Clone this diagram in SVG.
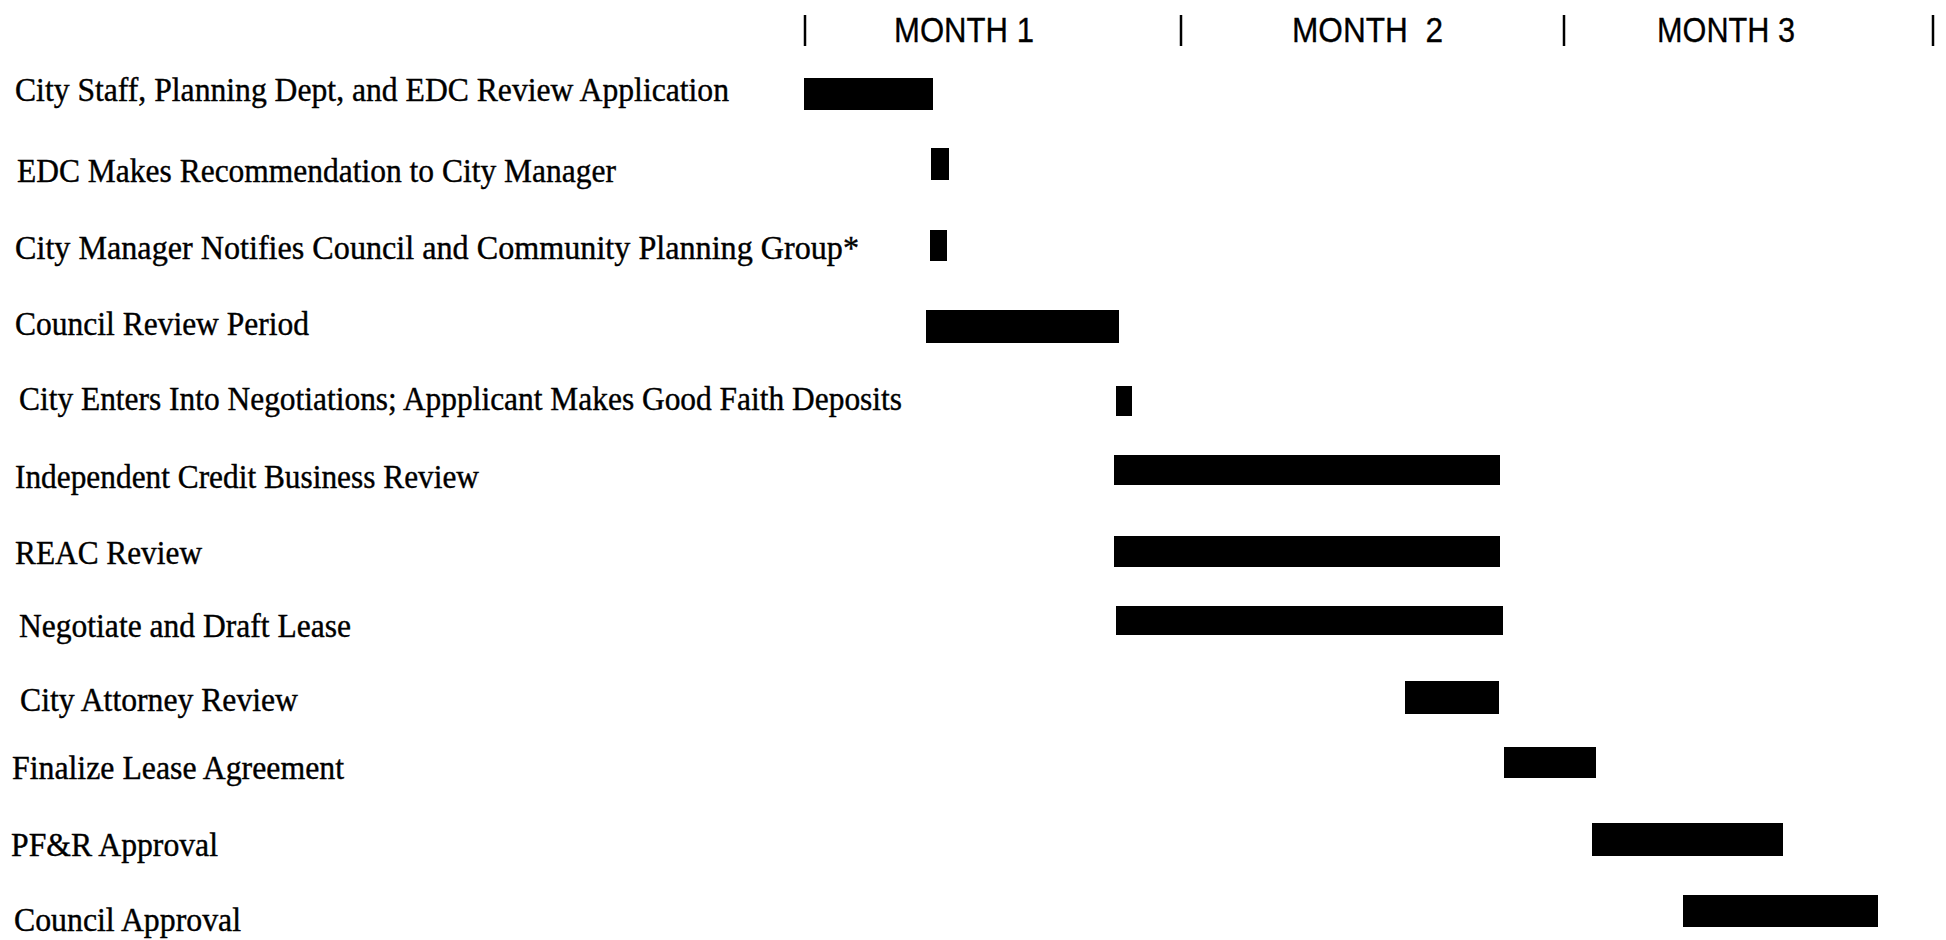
<svg xmlns="http://www.w3.org/2000/svg" width="1946" height="940" viewBox="0 0 1946 940">
<style>
.lbl{font-family:"Liberation Serif","Times New Roman",serif;font-size:34px;fill:#000;stroke:#000;stroke-width:0.4}
.hdr{font-family:"Liberation Sans",Arial,sans-serif;font-size:35px;fill:#000;stroke:#000;stroke-width:0.3}
.bar{fill:#000}
.tick{stroke:#000;stroke-width:2.5}
</style>
<rect width="1946" height="940" fill="#fff"/>
<g id="header">
<line class="tick" x1="805" y1="15" x2="805" y2="46"/>
<line class="tick" x1="1181" y1="15" x2="1181" y2="46"/>
<line class="tick" x1="1564" y1="15" x2="1564" y2="46"/>
<line class="tick" x1="1933" y1="15" x2="1933" y2="46"/>
<text class="hdr" x="894" y="42" textLength="140" lengthAdjust="spacingAndGlyphs">MONTH 1</text>
<text class="hdr" x="1292" y="42" textLength="151" lengthAdjust="spacingAndGlyphs" xml:space="preserve">MONTH  2</text>
<text class="hdr" x="1657" y="42" textLength="138" lengthAdjust="spacingAndGlyphs">MONTH 3</text>
</g>
<g id="task1"><text class="lbl" x="15" y="101" textLength="714" lengthAdjust="spacingAndGlyphs">City Staff, Planning Dept, and EDC Review Application</text><rect class="bar" x="804" y="78" width="129" height="32"/></g>
<g id="task2"><text class="lbl" x="17" y="182" textLength="599" lengthAdjust="spacingAndGlyphs">EDC Makes Recommendation to City Manager</text><rect class="bar" x="931" y="148" width="18" height="32"/></g>
<g id="task3"><text class="lbl" x="15" y="259" textLength="844" lengthAdjust="spacingAndGlyphs">City Manager Notifies Council and Community Planning Group*</text><rect class="bar" x="930" y="230" width="17" height="31"/></g>
<g id="task4"><text class="lbl" x="15" y="335" textLength="294" lengthAdjust="spacingAndGlyphs">Council Review Period</text><rect class="bar" x="926" y="310" width="193" height="33"/></g>
<g id="task5"><text class="lbl" x="19" y="410" textLength="883" lengthAdjust="spacingAndGlyphs">City Enters Into Negotiations; Appplicant Makes Good Faith Deposits</text><rect class="bar" x="1116" y="386" width="16" height="30"/></g>
<g id="task6"><text class="lbl" x="15" y="488" textLength="464" lengthAdjust="spacingAndGlyphs">Independent Credit Business Review</text><rect class="bar" x="1114" y="455" width="386" height="30"/></g>
<g id="task7"><text class="lbl" x="15" y="564" textLength="187" lengthAdjust="spacingAndGlyphs">REAC Review</text><rect class="bar" x="1114" y="536" width="386" height="31"/></g>
<g id="task8"><text class="lbl" x="19" y="637" textLength="332" lengthAdjust="spacingAndGlyphs">Negotiate and Draft Lease</text><rect class="bar" x="1116" y="606" width="387" height="29"/></g>
<g id="task9"><text class="lbl" x="20" y="711" textLength="278" lengthAdjust="spacingAndGlyphs">City Attorney Review</text><rect class="bar" x="1405" y="681" width="94" height="33"/></g>
<g id="task10"><text class="lbl" x="12" y="779" textLength="332" lengthAdjust="spacingAndGlyphs">Finalize Lease Agreement</text><rect class="bar" x="1504" y="747" width="92" height="31"/></g>
<g id="task11"><text class="lbl" x="11" y="856" textLength="207" lengthAdjust="spacingAndGlyphs">PF&amp;R Approval</text><rect class="bar" x="1592" y="823" width="191" height="33"/></g>
<g id="task12"><text class="lbl" x="14" y="931" textLength="227" lengthAdjust="spacingAndGlyphs">Council Approval</text><rect class="bar" x="1683" y="895" width="195" height="32"/></g>
<g id="connectors"></g>
</svg>
